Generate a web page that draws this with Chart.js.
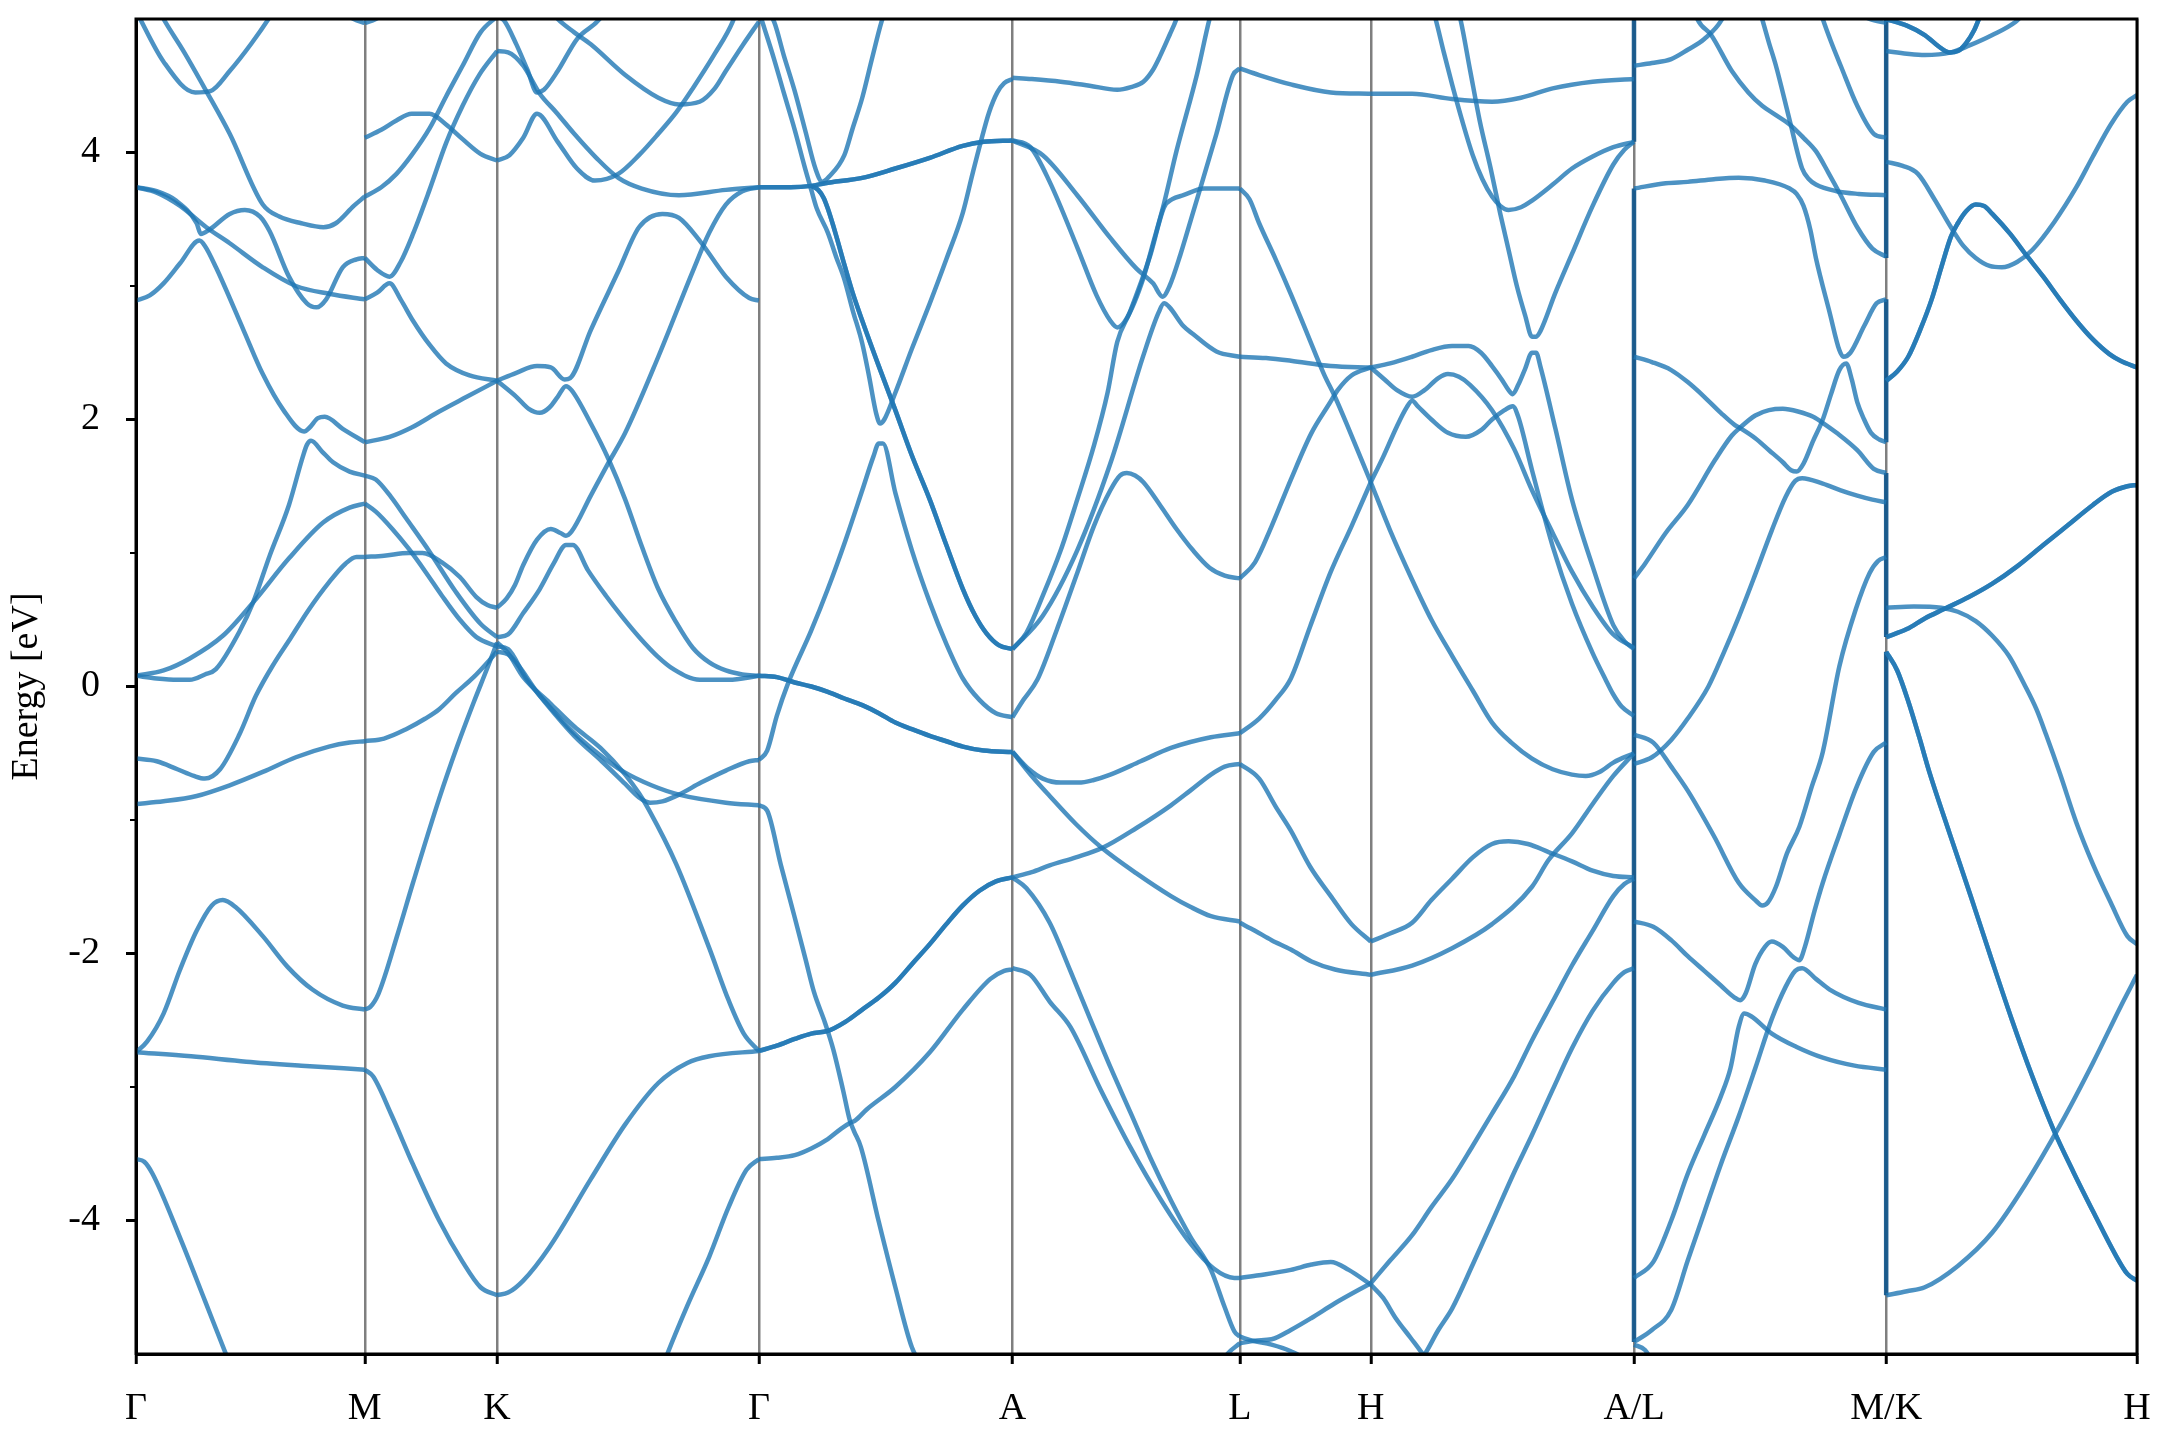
<!DOCTYPE html>
<html>
<head>
<meta charset="utf-8">
<script src="https://cdn.jsdelivr.net/npm/chart.js@4.4.1/dist/chart.umd.min.js"></script>
<style>
  html, body { margin: 0; background: #fff; }
  canvas { display: block; }
</style>
</head>
<body>
<canvas id="bands" width="2160" height="1440"></canvas>
<script>
// k-path positions (path length units) and their labels
var kTicks = [0, 166, 262, 452, 636, 801, 896, 1087, 1270, 1452];
var kLabels = ['Γ', 'M', 'K', 'Γ', 'A', 'L', 'H', 'A/L', 'M/K', 'H'];
var energyMajor = [-4, -2, 0, 2, 4];
var energyMinor = [-3, -1, 1, 3];

// bands per path segment, each band a list of [k, E (eV)]
var gammaM = [
    [[0,5.06],[20,4.68],[43,4.45],[54,4.46],[68,4.61],[84,4.82],[98,5.03],[102,5.1]],
    [[16,5.08],[20,5.0],[35,4.75],[51,4.46],[68,4.14],[92,3.61],[104,3.52],[120,3.47],[136,3.44],[145,3.47],[158,3.6],[166,3.67]],
    [[0,3.74],[15,3.71],[29,3.64],[44,3.47],[47,3.39],[53,3.42],[68,3.54],[79,3.57],[90,3.52],[97,3.41],[111,3.07],[124,2.87],[131,2.84],[138,2.9],[150,3.14],[160,3.2],[166,3.21]],
    [[0,3.74],[15,3.7],[32,3.6],[51,3.44],[68,3.32],[92,3.14],[116,3.0],[141,2.94],[166,2.9]],
    [[0,2.89],[10,2.93],[20,3.02],[32,3.17],[46,3.34],[50,3.3],[58,3.14],[78,2.67],[92,2.34],[107,2.07],[122,1.91],[126,1.94],[132,2.01],[137,2.02],[150,1.93],[166,1.83]],
    [[0,0.08],[15,0.06],[30,0.05],[39,0.05],[50,0.09],[58,0.13],[75,0.41],[85,0.63],[97,0.98],[111,1.36],[121,1.72],[124,1.81],[127,1.84],[135,1.76],[143,1.68],[155,1.61],[166,1.58]],
    [[0,0.08],[20,0.12],[39,0.21],[63,0.38],[85,0.63],[111,0.96],[136,1.23],[155,1.34],[166,1.37]],
    [[0,-0.54],[15,-0.56],[30,-0.62],[42,-0.67],[50,-0.69],[61,-0.62],[75,-0.36],[87,-0.07],[100,0.17],[112,0.36],[125,0.57],[140,0.78],[152,0.92],[160,0.97],[166,0.97]],
    [[0,-0.88],[20,-0.86],[44,-0.82],[68,-0.74],[92,-0.64],[116,-0.53],[140,-0.45],[155,-0.42],[166,-0.41]],
    [[0,-2.74],[8,-2.66],[20,-2.45],[32,-2.12],[44,-1.83],[55,-1.64],[63,-1.6],[72,-1.65],[92,-1.87],[110,-2.1],[128,-2.27],[150,-2.39],[166,-2.42]],
    [[0,-2.74],[40,-2.77],[80,-2.81],[120,-2.84],[166,-2.87]],
    [[0,-3.54],[6,-3.56],[12,-3.65],[32,-4.13],[50,-4.6],[66,-5.02],[70,-5.12]],
    [[150,5.06],[158,5.0],[166,4.97]]
];

var mK = [
    [[166,4.97],[174,5.0],[182,5.06]],
    [[166,4.11],[178,4.17],[189,4.24],[200,4.29],[213,4.29],[225,4.21],[237,4.1],[250,3.99],[262,3.94]],
    [[166,3.67],[178,3.74],[189,3.84],[200,3.98],[213,4.18],[225,4.42],[237,4.65],[250,4.9],[262,5.02]],
    [[166,3.21],[175,3.12],[184,3.07],[192,3.18],[201,3.39],[213,3.72],[225,4.07],[237,4.35],[249,4.58],[262,4.76]],
    [[166,2.9],[175,2.95],[184,3.02],[192,2.9],[201,2.74],[213,2.56],[225,2.42],[242,2.33],[262,2.29]],
    [[166,1.83],[184,1.87],[200,1.94],[220,2.06],[240,2.17],[262,2.29]],
    [[166,1.58],[174,1.55],[185,1.42],[196,1.26],[213,1.01],[232,0.71],[250,0.47],[262,0.37]],
    [[166,1.37],[174,1.31],[186,1.18],[198,1.03],[210,0.86],[222,0.68],[235,0.5],[247,0.37],[262,0.3]],
    [[166,0.97],[180,0.98],[198,1.0],[208,1.0],[222,0.93],[235,0.82],[247,0.67],[255,0.61],[262,0.59]],
    [[166,-0.41],[180,-0.39],[196,-0.32],[210,-0.24],[220,-0.17],[232,-0.05],[245,0.07],[262,0.26]],
    [[166,-2.42],[170,-2.4],[176,-2.3],[190,-1.85],[201,-1.47],[220,-0.84],[233,-0.45],[245,-0.12],[255,0.14],[262,0.33]],
    [[166,-2.87],[172,-2.92],[185,-3.2],[201,-3.58],[220,-4.0],[237,-4.31],[250,-4.5],[262,-4.56]]
];

var kGamma = [
    [[262,5.02],[267,4.99],[276,4.81],[284,4.62],[291,4.45],[296,4.47],[306,4.61],[320,4.85],[338,5.02],[342,5.1]],
    [[262,4.76],[270,4.75],[281,4.65],[293,4.44],[305,4.3],[318,4.14],[334,3.96],[350,3.81],[367,3.73],[394,3.68],[428,3.72],[452,3.74]],
    [[262,3.94],[271,3.98],[281,4.11],[291,4.29],[306,4.08],[320,3.88],[333,3.79],[350,3.84],[365,3.98],[379,4.14],[392,4.3],[404,4.48],[420,4.74],[433,4.98],[437,5.1]],
    [[298,5.1],[306,5.0],[318,4.9],[330,4.81],[355,4.58],[379,4.41],[394,4.36],[409,4.38],[420,4.48],[428,4.61],[440,4.8],[452,4.98]],
    [[262,2.29],[276,2.35],[291,2.4],[301,2.39],[311,2.3],[315,2.31],[330,2.67],[350,3.11],[365,3.44],[382,3.54],[394,3.51],[409,3.34],[428,3.07],[445,2.91],[452,2.89]],
    [[262,2.29],[276,2.17],[285,2.08],[293,2.05],[300,2.09],[306,2.17],[312,2.25],[316,2.22],[330,1.97],[343,1.7],[355,1.4],[367,1.05],[379,0.73],[392,0.48],[404,0.29],[416,0.18],[428,0.12],[440,0.09],[452,0.08]],
    [[262,0.59],[269,0.66],[275,0.76],[281,0.91],[291,1.1],[301,1.18],[308,1.15],[312,1.13],[316,1.16],[330,1.43],[342,1.66],[355,1.9],[379,2.47],[404,3.11],[416,3.4],[428,3.61],[440,3.71],[452,3.74]],
    [[262,0.37],[270,0.39],[281,0.55],[293,0.73],[303,0.92],[312,1.06],[317,1.06],[328,0.87],[341,0.68],[353,0.52],[366,0.36],[378,0.23],[390,0.13],[409,0.05],[430,0.05],[452,0.08]],
    [[262,0.3],[270,0.28],[283,0.06],[300,-0.15],[317,-0.34],[335,-0.5],[354,-0.64],[374,-0.74],[394,-0.81],[428,-0.87],[452,-0.89]],
    [[262,0.26],[270,0.24],[293,-0.07],[318,-0.37],[338,-0.56],[355,-0.73],[365,-0.83],[373,-0.87],[382,-0.86],[394,-0.81],[410,-0.72],[428,-0.63],[445,-0.56],[452,-0.55]],
    [[262,0.33],[270,0.25],[281,0.07],[300,-0.12],[318,-0.3],[337,-0.46],[355,-0.66],[365,-0.8],[372,-0.92],[392,-1.33],[416,-1.96],[430,-2.35],[441,-2.6],[452,-2.73]],
    [[262,-4.56],[270,-4.54],[281,-4.45],[300,-4.2],[330,-3.69],[355,-3.28],[379,-2.97],[400,-2.82],[416,-2.77],[452,-2.73]],
    [[380,-5.15],[384,-5.04],[400,-4.64],[416,-4.27],[430,-3.9],[443,-3.62],[452,-3.54]]
];

var gammaA = [
    [[455,5.1],[463,4.98],[470,4.73],[478,4.46],[486,4.15],[493,3.88],[498,3.78],[503,3.82],[514,3.98],[520,4.18],[527,4.41],[534,4.7],[541,4.98],[545,5.1]],
    [[452,5.06],[456,4.93],[463,4.7],[470,4.45],[478,4.17],[485,3.9],[490,3.72],[494,3.58],[502,3.4],[508,3.22],[514,3.05],[520,2.82],[527,2.57],[532,2.32],[537,2.05],[540,1.97],[543,2.0],[551,2.2],[563,2.53],[576,2.87],[588,3.2],[600,3.55],[607,3.84],[613,4.08],[619,4.3],[625,4.45],[630,4.52],[636,4.55]],
    [[452,-0.55],[458,-0.48],[465,-0.22],[473,0.02],[490,0.42],[502,0.73],[515,1.1],[527,1.47],[535,1.72],[539,1.82],[542,1.82],[551,1.45],[563,1.02],[576,0.63],[588,0.32],[600,0.06],[612,-0.1],[624,-0.2],[636,-0.23]],
    [[452,-0.89],[458,-0.93],[468,-1.34],[478,-1.73],[486,-2.05],[492,-2.29],[500,-2.52],[506,-2.72],[513,-3.02],[518,-3.25],[521,-3.33],[526,-3.45],[539,-4.01],[551,-4.5],[563,-4.95],[571,-5.1]],
    [[452,-3.54],[465,-3.53],[478,-3.51],[490,-3.46],[502,-3.39],[512,-3.31],[518,-3.27],[522,-3.25],[530,-3.17],[551,-3.0],[576,-2.74],[600,-2.42],[620,-2.19],[630,-2.13],[636,-2.12]]
];
// doubly degenerate bands along Γ-A
var gammaAPairs = [
    [[452,3.74],[475,3.74],[490,3.75],[500,3.77],[527,3.81],[551,3.88],[576,3.96],[600,4.05],[615,4.08],[636,4.09]],
    [[490,3.75],[495,3.72],[499,3.66],[502,3.58],[508,3.38],[514,3.16],[520,2.95],[527,2.74],[539,2.4],[551,2.07],[563,1.73],[576,1.4],[588,1.06],[600,0.73],[609,0.53],[617,0.4],[626,0.31],[636,0.28]],
    [[452,0.08],[465,0.07],[478,0.03],[490,0.0],[502,-0.04],[514,-0.09],[527,-0.14],[539,-0.2],[551,-0.27],[563,-0.32],[576,-0.37],[588,-0.41],[600,-0.45],[615,-0.48],[636,-0.49]],
    [[452,-2.73],[465,-2.69],[478,-2.64],[490,-2.6],[502,-2.58],[515,-2.51],[527,-2.42],[539,-2.33],[551,-2.22],[563,-2.08],[576,-1.93],[588,-1.78],[600,-1.64],[612,-1.53],[624,-1.46],[636,-1.43]]
];

var aL = [
    [[636,4.56],[650,4.55],[671,4.53],[692,4.5],[712,4.47],[722,4.49],[731,4.53],[738,4.62],[743,4.72],[750,4.88],[755,5.0],[758,5.1]],
    [[636,4.09],[649,4.04],[663,3.78],[683,3.29],[697,2.93],[707,2.74],[712,2.69],[719,2.76],[731,3.06],[738,3.32],[746,3.62],[755,4.01],[770,4.59],[779,5.0],[782,5.1]],
    [[636,4.09],[658,3.98],[683,3.68],[707,3.36],[726,3.13],[738,3.02],[745,2.92],[750,3.0],[758,3.24],[767,3.55],[784,4.14],[796,4.58],[801,4.63]],
    [[636,0.28],[646,0.4],[658,0.68],[671,1.02],[683,1.4],[695,1.8],[705,2.2],[712,2.58],[721,2.8],[736,3.23],[746,3.59],[752,3.65],[760,3.68],[775,3.73],[801,3.73]],
    [[636,0.28],[658,0.53],[683,1.02],[707,1.67],[731,2.48],[742,2.8],[746,2.87],[750,2.84],[760,2.7],[767,2.64],[784,2.51],[801,2.47]],
    [[636,-0.23],[644,-0.1],[654,0.05],[668,0.42],[683,0.85],[695,1.2],[707,1.47],[714,1.58],[719,1.6],[725,1.58],[731,1.53],[743,1.36],[755,1.18],[767,1.02],[779,0.89],[790,0.83],[801,0.81]],
    [[636,-0.49],[648,-0.62],[658,-0.69],[671,-0.72],[684,-0.72],[695,-0.7],[707,-0.66],[729,-0.56],[751,-0.46],[780,-0.38],[801,-0.35]],
    [[636,-0.49],[650,-0.67],[663,-0.82],[682,-1.03],[701,-1.21],[726,-1.4],[751,-1.57],[765,-1.65],[780,-1.72],[801,-1.76]],
    [[636,-1.43],[650,-1.39],[663,-1.34],[682,-1.28],[701,-1.21],[726,-1.06],[751,-0.89],[765,-0.78],[780,-0.66],[790,-0.6],[801,-0.58]],
    [[636,-2.11],[649,-2.16],[663,-2.36],[678,-2.55],[700,-3.02],[722,-3.46],[744,-3.85],[765,-4.17],[782,-4.36],[797,-4.43],[801,-4.43]],
    [[636,-1.43],[646,-1.51],[663,-1.77],[678,-2.13],[692,-2.48],[707,-2.85],[722,-3.2],[736,-3.53],[751,-3.85],[765,-4.12],[780,-4.37],[790,-4.65],[797,-4.83],[801,-4.87]],
    [[786,-5.1],[792,-5.0],[801,-4.92]]
];

var lH = [
    [[801,4.63],[815,4.58],[838,4.51],[867,4.45],[896,4.44]],
    [[801,3.73],[808,3.65],[815,3.47],[827,3.2],[838,2.94],[850,2.64],[862,2.34],[870,2.17],[880,1.93],[896,1.53]],
    [[801,2.47],[820,2.46],[838,2.44],[867,2.4],[896,2.39]],
    [[801,0.81],[812,0.93],[824,1.2],[838,1.55],[853,1.9],[866,2.12],[872,2.22],[882,2.33],[896,2.39]],
    [[801,-0.35],[815,-0.24],[827,-0.1],[838,0.06],[852,0.45],[867,0.86],[882,1.2],[896,1.53]],
    [[801,-0.58],[815,-0.69],[827,-0.9],[838,-1.08],[852,-1.35],[867,-1.57],[882,-1.78],[896,-1.91]],
    [[801,-1.77],[812,-1.83],[824,-1.9],[838,-1.97],[853,-2.06],[870,-2.12],[896,-2.16]],
    [[801,-4.43],[815,-4.41],[838,-4.37],[853,-4.33],[867,-4.31],[880,-4.37],[896,-4.48]],
    [[801,-4.87],[810,-4.9],[824,-4.93],[838,-4.98],[845,-5.02],[850,-5.1]],
    [[801,-4.92],[812,-4.9],[824,-4.89],[838,-4.82],[853,-4.73],[870,-4.62],[896,-4.47]]
];

var hAL = [
    [[896,4.44],[926,4.44],[955,4.4],[984,4.38],[1005,4.41],[1028,4.48],[1057,4.53],[1087,4.55]],
    [[940,5.1],[943,5.0],[949,4.75],[955,4.51],[962,4.25],[970,3.98],[977,3.8],[984,3.67],[990,3.6],[996,3.57],[1005,3.59],[1013,3.64],[1028,3.76],[1042,3.88],[1057,3.97],[1072,4.04],[1087,4.08]],
    [[958,5.1],[961,5.0],[968,4.62],[975,4.24],[983,3.88],[990,3.54],[996,3.27],[1002,3.0],[1008,2.78],[1013,2.62],[1016,2.62],[1019,2.66],[1030,2.95],[1042,3.24],[1057,3.6],[1072,3.91],[1080,4.02],[1087,4.08]],
    [[896,2.39],[910,2.42],[926,2.47],[940,2.52],[955,2.55],[967,2.55],[976,2.5],[984,2.4],[991,2.3],[996,2.22],[999,2.19],[1003,2.26],[1008,2.38],[1013,2.5],[1016,2.5],[1019,2.4],[1030,1.93],[1042,1.4],[1057,0.9],[1072,0.46],[1080,0.34],[1087,0.28]],
    [[896,1.53],[905,1.72],[915,1.95],[922,2.09],[926,2.14],[930,2.1],[940,2.0],[952,1.9],[965,1.87],[976,1.92],[984,2.0],[993,2.07],[999,2.1],[1003,2.02],[1013,1.62],[1028,1.05],[1042,0.62],[1057,0.25],[1066,0.06],[1072,-0.06],[1078,-0.15],[1087,-0.22]],
    [[896,2.39],[906,2.3],[915,2.22],[926,2.17],[935,2.22],[945,2.31],[952,2.34],[960,2.32],[968,2.26],[984,2.07],[1000,1.78],[1013,1.47],[1028,1.15],[1042,0.86],[1057,0.6],[1072,0.39],[1087,0.29]],
    [[896,1.53],[910,1.17],[926,0.8],[940,0.5],[955,0.23],[970,-0.03],[984,-0.27],[998,-0.42],[1013,-0.54],[1028,-0.62],[1042,-0.66],[1052,-0.67],[1062,-0.64],[1072,-0.57],[1087,-0.5]],
    [[896,-2.16],[926,-2.09],[955,-1.96],[984,-1.78],[1013,-1.5],[1025,-1.3],[1042,-1.1],[1057,-0.88],[1072,-0.67],[1087,-0.5]],
    [[896,-1.91],[910,-1.85],[926,-1.77],[940,-1.6],[955,-1.44],[970,-1.28],[984,-1.18],[996,-1.16],[1010,-1.18],[1025,-1.24],[1042,-1.31],[1057,-1.38],[1072,-1.42],[1087,-1.43]],
    [[926,-5.1],[934,-5.02],[945,-4.82],[955,-4.66],[970,-4.33],[984,-4.01],[1000,-3.64],[1013,-3.36],[1028,-3.02],[1042,-2.71],[1057,-2.43],[1072,-2.22],[1080,-2.14],[1087,-2.11]],
    [[896,-4.47],[910,-4.3],[926,-4.11],[940,-3.9],[955,-3.69],[970,-3.44],[984,-3.2],[1000,-2.92],[1013,-2.65],[1028,-2.36],[1042,-2.09],[1057,-1.83],[1072,-1.57],[1080,-1.48],[1087,-1.44]],
    [[896,-4.48],[905,-4.58],[914,-4.73],[925,-4.88],[935,-5.02],[940,-5.1]]
];

var lM = [
    [[1087,4.65],[1100,4.67],[1114,4.7],[1126,4.77],[1138,4.85],[1151,5.0],[1155,5.1]],
    [[1130,5.1],[1133,5.0],[1143,4.88],[1158,4.61],[1170,4.45],[1180,4.35],[1190,4.28],[1200,4.21],[1210,4.11],[1219,4.01],[1228,3.85],[1237,3.68],[1249,3.44],[1260,3.28],[1270,3.22]],
    [[1177,5.1],[1180,5.0],[1185,4.82],[1190,4.65],[1200,4.24],[1209,3.88],[1214,3.8],[1219,3.76],[1234,3.71],[1250,3.69],[1270,3.68]],
    [[1221,5.1],[1224,5.0],[1230,4.83],[1237,4.65],[1249,4.35],[1261,4.14],[1270,4.11]],
    [[1245,5.08],[1258,5.0],[1270,4.97]],
    [[1087,3.73],[1110,3.77],[1126,3.78],[1145,3.8],[1163,3.81],[1182,3.79],[1200,3.73],[1205,3.69],[1210,3.6],[1215,3.42],[1219,3.21],[1229,2.8],[1236,2.52],[1239,2.47],[1244,2.5],[1254,2.7],[1263,2.87],[1270,2.9]],
    [[1087,2.47],[1100,2.43],[1114,2.37],[1126,2.28],[1138,2.17],[1150,2.05],[1160,1.96],[1165,1.93],[1175,1.86],[1185,1.77],[1195,1.68],[1201,1.62],[1205,1.61],[1210,1.67],[1217,1.84],[1224,2.0],[1230,2.19],[1236,2.37],[1241,2.42],[1245,2.3],[1249,2.13],[1254,2.0],[1259,1.9],[1265,1.85],[1270,1.83]],
    [[1087,-0.58],[1100,-0.53],[1114,-0.4],[1126,-0.24],[1141,0.0],[1152,0.25],[1163,0.52],[1175,0.84],[1187,1.17],[1197,1.42],[1204,1.54],[1209,1.56],[1224,1.52],[1237,1.47],[1249,1.43],[1260,1.4],[1270,1.38]],
    [[1087,0.81],[1095,0.92],[1110,1.15],[1126,1.36],[1146,1.7],[1158,1.88],[1163,1.93],[1175,2.03],[1185,2.07],[1195,2.08],[1206,2.06],[1217,2.02],[1226,1.96],[1234,1.9],[1249,1.77],[1261,1.63],[1270,1.6]],
    [[1087,-0.36],[1101,-0.42],[1114,-0.6],[1126,-0.78],[1145,-1.12],[1163,-1.47],[1175,-1.6],[1180,-1.64],[1184,-1.62],[1190,-1.5],[1198,-1.25],[1207,-1.05],[1216,-0.75],[1224,-0.49],[1236,0.15],[1248,0.58],[1258,0.85],[1264,0.94],[1270,0.97]],
    [[1087,-1.76],[1101,-1.8],[1114,-1.9],[1126,-2.02],[1138,-2.13],[1150,-2.24],[1160,-2.33],[1164,-2.35],[1168,-2.3],[1175,-2.08],[1182,-1.95],[1187,-1.91],[1195,-1.95],[1203,-2.03],[1207,-2.05],[1211,-1.95],[1218,-1.68],[1224,-1.47],[1236,-1.11],[1249,-0.74],[1261,-0.49],[1270,-0.42]],
    [[1087,-4.43],[1101,-4.31],[1114,-4.0],[1126,-3.65],[1138,-3.36],[1150,-3.07],[1157,-2.86],[1163,-2.55],[1167,-2.45],[1172,-2.47],[1187,-2.6],[1205,-2.7],[1224,-2.78],[1247,-2.84],[1270,-2.87]],
    [[1087,-4.91],[1100,-4.82],[1114,-4.67],[1126,-4.3],[1138,-3.94],[1150,-3.58],[1163,-3.22],[1175,-2.86],[1187,-2.49],[1197,-2.25],[1204,-2.13],[1209,-2.11],[1219,-2.19],[1229,-2.27],[1250,-2.37],[1270,-2.42]],
    [[1087,-4.93],[1095,-4.97],[1100,-5.05],[1103,-5.1]]
];

var kH = [
    [[1270,4.76],[1285,4.74],[1298,4.73],[1317,4.75],[1330,4.8],[1347,4.88],[1364,4.98],[1368,5.02]],
    [[1270,3.93],[1282,3.9],[1293,3.84],[1305,3.65],[1317,3.44],[1326,3.3],[1335,3.21],[1345,3.15],[1354,3.14],[1365,3.18],[1376,3.27],[1392,3.48],[1408,3.74],[1420,3.97],[1433,4.21],[1445,4.38],[1452,4.43]],
    [[1270,0.59],[1290,0.6],[1310,0.59],[1322,0.56],[1335,0.49],[1347,0.38],[1359,0.23],[1370,0.02],[1379,-0.17],[1386,-0.36],[1396,-0.65],[1408,-1.02],[1420,-1.33],[1433,-1.62],[1445,-1.87],[1452,-1.93]],
    [[1270,-4.56],[1285,-4.53],[1298,-4.5],[1322,-4.34],[1347,-4.09],[1371,-3.73],[1396,-3.29],[1420,-2.82],[1440,-2.4],[1452,-2.16]]
];
// doubly degenerate bands along K-H
var kHPairs = [
    [[1270,5.0],[1285,4.95],[1298,4.88],[1310,4.78],[1316,4.75],[1322,4.76],[1328,4.82],[1334,4.92],[1338,5.02],[1341,5.1]],
    [[1270,2.29],[1278,2.36],[1286,2.47],[1295,2.68],[1303,2.9],[1310,3.14],[1317,3.37],[1322,3.47],[1328,3.56],[1335,3.61],[1341,3.6],[1347,3.54],[1360,3.39],[1371,3.24],[1384,3.07],[1396,2.9],[1408,2.74],[1420,2.6],[1432,2.49],[1440,2.44],[1452,2.39]],
    [[1270,0.37],[1285,0.43],[1298,0.51],[1312,0.58],[1330,0.67],[1347,0.77],[1365,0.9],[1384,1.06],[1402,1.21],[1420,1.36],[1434,1.46],[1445,1.5],[1452,1.51]],
    [[1270,0.26],[1278,0.12],[1286,-0.11],[1294,-0.38],[1301,-0.63],[1316,-1.1],[1331,-1.56],[1346,-2.03],[1361,-2.49],[1376,-2.92],[1391,-3.31],[1406,-3.64],[1421,-3.95],[1436,-4.25],[1445,-4.4],[1452,-4.45]]
];

// band jumps at the path breaks: [k, E from, E to]
var jumpSegments = [
    [1087, 5.0, 4.08], [1087, 3.73, -4.91],
    [1270, 5.0, 3.21], [1270, 2.9, 1.83], [1270, 1.6, 0.37], [1270, 0.26, -4.56]
];

(function () {
    var serif = '"Liberation Serif", "Times New Roman", serif';
    var bandColor = 'rgba(31, 119, 180, 0.8)';
    var jumpColor = 'rgba(22, 88, 140, 0.95)';

    Chart.defaults.animation = false;
    Chart.defaults.font.family = serif;
    Chart.defaults.color = '#000';

    function bandSet(points) {
        return {
            data: points.map(function (p) { return { x: p[0], y: p[1] }; }),
            borderColor: bandColor,
            borderWidth: 4.5,
            pointRadius: 0,
            tension: 0.4,
            cubicInterpolationMode: 'monotone',
            fill: false
        };
    }

    var datasets = [];
    [gammaM, mK, kGamma, gammaA, aL, lH, hAL, lM, kH].forEach(function (segment) {
        segment.forEach(function (band) { datasets.push(bandSet(band)); });
    });
    // two bands on the same curve: drawn twice, which darkens them as in the source
    [gammaAPairs, kHPairs].forEach(function (segment) {
        segment.forEach(function (band) {
            datasets.push(bandSet(band));
            datasets.push(bandSet(band));
        });
    });
    jumpSegments.forEach(function (j) {
        datasets.push({
            data: [{ x: j[0], y: j[1] }, { x: j[0], y: j[2] }],
            borderColor: jumpColor,
            borderWidth: 4.5,
            pointRadius: 0,
            tension: 0,
            fill: false
        });
    });

    // frame round the plot, plus the short minor ticks on the energy axis
    var framePlugin = {
        id: 'frame',
        afterDraw: function (chart) {
            var a = chart.chartArea, ctx = chart.ctx, y = chart.scales.y;
            ctx.save();
            ctx.strokeStyle = '#000';
            ctx.lineWidth = 3;
            ctx.strokeRect(a.left, a.top, a.right - a.left, a.bottom - a.top);
            ctx.lineWidth = 2;
            energyMinor.forEach(function (v) {
                var py = y.getPixelForValue(v);
                ctx.beginPath();
                ctx.moveTo(a.left - 6, py);
                ctx.lineTo(a.left, py);
                ctx.stroke();
            });
            ctx.restore();
        }
    };

    new Chart(document.getElementById('bands'), {
        type: 'line',
        data: { datasets: datasets },
        options: {
            responsive: false,
            devicePixelRatio: 1,
            events: [],
            layout: { padding: { top: 19, right: 23, left: 0, bottom: 0 } },
            plugins: { legend: { display: false }, tooltip: { enabled: false } },
            scales: {
                x: {
                    type: 'linear',
                    min: 0,
                    max: 1452,
                    afterBuildTicks: function (s) { s.ticks = kTicks.map(function (v) { return { value: v }; }); },
                    afterFit: function (s) { s.height = 86; s.paddingLeft = 0; s.paddingRight = 0; },
                    ticks: {
                        autoSkip: false,
                        maxRotation: 0,
                        padding: 22,
                        font: { size: 38 },
                        callback: function (v, i) { return kLabels[i]; }
                    },
                    grid: { color: 'rgba(0, 0, 0, 0.5)', lineWidth: 2.5, tickLength: 10, tickColor: '#000', tickWidth: 3 },
                    border: { color: '#000', width: 3 }
                },
                y: {
                    type: 'linear',
                    min: -5,
                    max: 5,
                    afterBuildTicks: function (s) { s.ticks = energyMajor.map(function (v) { return { value: v }; }); },
                    afterFit: function (s) { s.width = 136; s.paddingTop = 0; s.paddingBottom = 0; },
                    ticks: { padding: 26, crossAlign: 'near', font: { size: 38 }, callback: function (v) { return String(v); } },
                    grid: { drawOnChartArea: false, tickLength: 10, tickColor: '#000', tickWidth: 3 },
                    border: { color: '#000', width: 3 },
                    title: { display: true, text: 'Energy [eV]', font: { size: 38 }, padding: { top: 4, bottom: 4 } }
                }
            }
        },
        plugins: [framePlugin]
    });
})();
</script>
</body>
</html>
